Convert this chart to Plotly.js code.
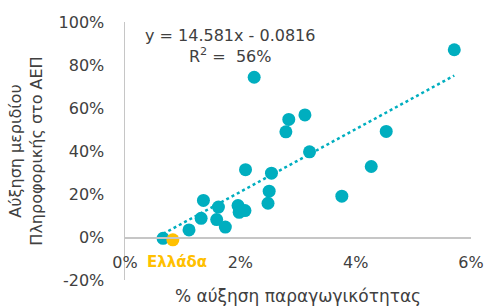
<!DOCTYPE html>
<html><head><meta charset="utf-8">
<script src="https://cdn.plot.ly/plotly-3.0.1.min.js"></script>
<style>html,body{margin:0;padding:0;background:#fff}#chart{width:486px;height:306px}</style>
</head><body><div id="chart"></div>
<script>
// productivity growth (%) and ICT share growth (%)
const productivity = [0.66, 1.11, 1.32, 1.36, 1.62, 1.59, 1.74, 1.96, 1.98, 2.08, 2.09, 2.54, 2.50, 2.48, 3.20, 2.24, 2.84, 3.12, 2.79, 4.53, 4.27, 5.71, 3.76];
const ictShare     = [-0.6, 3.3, 8.7, 17.0, 13.9, 8.1, 4.6, 14.6, 11.5, 12.3, 31.3, 29.7, 21.3, 15.7, 39.6, 74.3, 54.7, 56.8, 48.9, 49.1, 32.8, 87.1, 19.0];
const greeceX = [0.83];
const greeceY = [-1.3];
const greeceLabel = 'Ελλάδα';
const slope = 14.581, intercept = -0.0816;
const equationText = 'y = 14.581x - 0.0816';
const r2Text = 'R<sup>2</sup> =  56%';
const xTicks = [0, 2, 4, 6];
const yTicks = [-20, 0, 20, 40, 60, 80, 100];

const allX = productivity.concat(greeceX);
const xmin = Math.min(...allX), xmax = Math.max(...allX);
const trendX = [xmin, xmax];
const trendY = trendX.map(v => (slope * v / 100 + intercept) * 100);

const teal = '#00AEBF', gold = '#FFC000', txt = '#404040', axisCol = '#C6C6C6';
const fam = 'DejaVu Sans, sans-serif';
const tickFont = {family: fam, size: 16, color: txt};

const ML = 125, MR = 15, MT = 22, MB = 26, W = 486, H = 306;
const data = [
  {x: trendX, y: trendY, mode: 'lines', line: {color: teal, width: 2.5, dash: 'dot'}, hoverinfo: 'skip'},
  {x: productivity, y: ictShare, mode: 'markers', marker: {color: teal, size: 13}},
  {x: greeceX, y: greeceY, mode: 'markers', marker: {color: gold, size: 13}}
];
const layout = {
  width: W, height: H, showlegend: false,
  paper_bgcolor: '#fff', plot_bgcolor: '#fff',
  margin: {l: ML, r: MR, t: MT, b: MB},
  font: tickFont,
  xaxis: {range: [0, 6], tickvals: xTicks, ticktext: xTicks.map(v => v + '%'),
    showgrid: false, zeroline: false, showline: true, linecolor: axisCol, linewidth: 1.5,
    anchor: 'free', position: 20/120, ticks: '', ticklabelstandoff: 10,
    tickfont: tickFont, automargin: false,
    title: {text: '% αύξηση παραγωγικότητας', font: {family: fam, size: 17, color: txt}, standoff: 20}},
  yaxis: {range: [-20, 100], tickvals: yTicks, ticktext: yTicks.map(v => v + '%'),
    showgrid: false, zeroline: false, showline: true, linecolor: axisCol, linewidth: 1.5,
    ticks: '', ticklabelstandoff: 16, tickfont: tickFont, automargin: false,
    title: {text: 'Αύξηση μεριδίου<br>Πληροφορικής στο ΑΕΠ', font: {family: fam, size: 16, color: txt}, standoff: 12}},
  annotations: [
    {x: 1.82, y: 89, xref: 'x', yref: 'y', text: equationText + '<br>' + r2Text,
     showarrow: false, align: 'center', xanchor: 'center', yanchor: 'middle', font: {family: fam, size: 16, color: txt}},
    {x: (177 - ML) / (W - ML - MR), y: (H - MB - 262) / (H - MT - MB), xref: 'paper', yref: 'paper',
     text: '<b>' + greeceLabel + '</b>', showarrow: false, xanchor: 'center', yanchor: 'middle',
     font: {family: fam, size: 15, color: gold}}
  ]
};
Plotly.newPlot('chart', data, layout, {displayModeBar: false, staticPlot: true});
</script></body></html>
